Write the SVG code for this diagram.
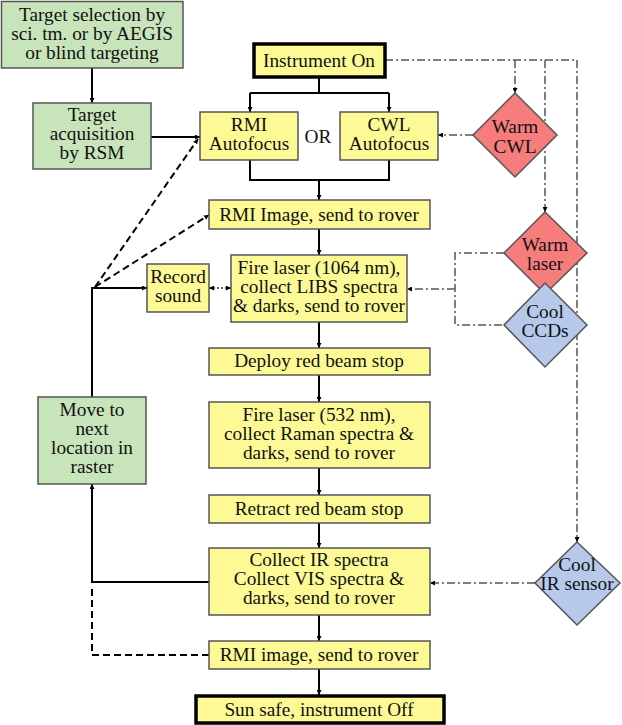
<svg xmlns="http://www.w3.org/2000/svg" width="622" height="725" viewBox="0 0 622 725">
<style>
text{font-family:"Liberation Serif","Times New Roman",serif;font-size:19.3px;fill:#111;text-anchor:middle}
.g{fill:#c8e4bb;stroke:#555;stroke-width:1.5}
.y{fill:#fdfa96;stroke:#555;stroke-width:1.5}
.yt{fill:#fdfa96;stroke:#000;stroke-width:3.5}
.r{fill:#f77d7d;stroke:#555;stroke-width:1.5}
.b{fill:#b6c9ea;stroke:#555;stroke-width:1.5}
.s{fill:none;stroke:#000;stroke-width:2}
.d{fill:none;stroke:#000;stroke-width:2;stroke-dasharray:7 4}
.dd{fill:none;stroke:#555;stroke-width:1.5;stroke-dasharray:8 3 2 3}
.dot{fill:none;stroke:#333;stroke-width:1.5;stroke-dasharray:2 2}
</style>
<defs>
<marker id="a" viewBox="0 0 10 10" refX="10" refY="5" markerWidth="5" markerHeight="5" orient="auto-start-reverse" markerUnits="userSpaceOnUse"><path d="M0,0L10,5L0,10z" fill="#000"/></marker>
</defs>
<g id="connectors">
<path class="s" d="M92,68V103" marker-end="url(#a)"/>
<path class="s" d="M151,137H200" marker-end="url(#a)"/>
<path class="s" d="M319,77V93M250,93H389"/>
<path class="s" d="M250,93V112" marker-end="url(#a)"/>
<path class="s" d="M389,93V112" marker-end="url(#a)"/>
<path class="s" d="M250,160V180H389V160M319,180V200" marker-end="url(#a)"/>
<path class="s" d="M319,229V255" marker-end="url(#a)"/>
<path class="s" d="M319,322V348" marker-end="url(#a)"/>
<path class="s" d="M319,375V402" marker-end="url(#a)"/>
<path class="s" d="M319,468V495" marker-end="url(#a)"/>
<path class="s" d="M319,523V548" marker-end="url(#a)"/>
<path class="s" d="M319,615V641" marker-end="url(#a)"/>
<path class="s" d="M319,669V695" marker-end="url(#a)"/>
<path class="s" d="M92,397V288H147" marker-end="url(#a)"/>
<path class="s" d="M209,582H92V484" marker-end="url(#a)"/>
<path class="d" d="M95,287L198,139" marker-end="url(#a)"/>
<path class="d" d="M95,287L209,215" marker-end="url(#a)"/>
<path class="d" d="M209,655H92V586"/>
<path class="dot" d="M209,288H231" marker-start="url(#a)" marker-end="url(#a)"/>
<path class="dd" d="M385,60H577V542" marker-end="url(#a)"/>
<path class="dd" d="M515,60V93" marker-end="url(#a)"/>
<path class="dd" d="M545,60V212" marker-end="url(#a)"/>
<path class="dd" d="M473,135H438" marker-end="url(#a)"/>
<path class="dd" d="M504,253H455V325H504"/>
<path class="dd" d="M455,289H407" marker-end="url(#a)"/>
<path class="dd" d="M535,583H430" marker-end="url(#a)"/>
</g>
<g id="target-selection"><rect class="g" x="1.5" y="1.5" width="181.5" height="66.5"/><text x="92" y="21">Target selection by</text><text x="92" y="40">sci. tm. or by AEGIS</text><text x="92" y="59">or blind targeting</text></g>
<g id="target-acquisition"><rect class="g" x="33" y="103" width="118" height="66"/><text x="92" y="121">Target</text><text x="92" y="140">acquisition</text><text x="92" y="159">by RSM</text></g>
<g id="instrument-on"><rect class="yt" x="254" y="44" width="131" height="33"/><text x="319" y="67">Instrument On</text></g>
<g id="rmi-autofocus"><rect class="y" x="200" y="112" width="98" height="48"/><text x="249" y="131">RMI</text><text x="249" y="150">Autofocus</text></g>
<g id="or"><text x="318" y="143">OR</text></g>
<g id="cwl-autofocus"><rect class="y" x="340" y="112" width="98" height="48"/><text x="389" y="131">CWL</text><text x="389" y="150">Autofocus</text></g>
<g id="warm-cwl"><path class="r" d="M515,93L557,135L515,177L473,135Z"/><text x="515" y="133">Warm</text><text x="515" y="153">CWL</text></g>
<g id="rmi-image"><rect class="y" x="209" y="200" width="221" height="29"/><text x="319" y="221">RMI Image, send to rover</text></g>
<g id="record-sound"><rect class="y" x="147" y="264" width="62" height="48"/><text x="178" y="283">Record</text><text x="178" y="302">sound</text></g>
<g id="fire-1064"><rect class="y" x="231" y="255" width="176" height="67"/><text x="319" y="274">Fire laser (1064 nm),</text><text x="319" y="293">collect LIBS spectra</text><text x="319" y="312">&amp; darks, send to rover</text></g>
<g id="warm-laser"><path class="r" d="M545,212L587,253L545,294L504,253Z"/><text x="545" y="251">Warm</text><text x="545" y="270">laser</text></g>
<g id="cool-ccds"><path class="b" d="M545,283L587,325L545,367L504,325Z"/><text x="545" y="318">Cool</text><text x="545" y="337">CCDs</text></g>
<g id="deploy"><rect class="y" x="209" y="348" width="221" height="27"/><text x="319" y="367">Deploy red beam stop</text></g>
<g id="move-next"><rect class="g" x="38" y="397" width="108" height="87"/><text x="92" y="416">Move to</text><text x="92" y="435">next</text><text x="92" y="454">location in</text><text x="92" y="473">raster</text></g>
<g id="fire-532"><rect class="y" x="209" y="402" width="221" height="66"/><text x="319" y="421">Fire laser (532 nm),</text><text x="319" y="440">collect Raman spectra &amp;</text><text x="319" y="459">darks, send to rover</text></g>
<g id="retract"><rect class="y" x="209" y="495" width="221" height="28"/><text x="319" y="515">Retract red beam stop</text></g>
<g id="collect-ir"><rect class="y" x="209" y="548" width="221" height="67"/><text x="319" y="566">Collect IR spectra</text><text x="319" y="585">Collect VIS spectra &amp;</text><text x="319" y="604">darks, send to rover</text></g>
<g id="cool-ir"><path class="b" d="M577,542L620,583L577,625L535,583Z"/><text x="577" y="571">Cool</text><text x="577" y="590">IR sensor</text></g>
<g id="rmi-image-2"><rect class="y" x="209" y="641" width="221" height="28"/><text x="319" y="661">RMI image, send to rover</text></g>
<g id="sun-safe"><rect class="yt" x="196" y="696" width="248" height="27"/><text x="319" y="716">Sun safe, instrument Off</text></g>
</svg>
